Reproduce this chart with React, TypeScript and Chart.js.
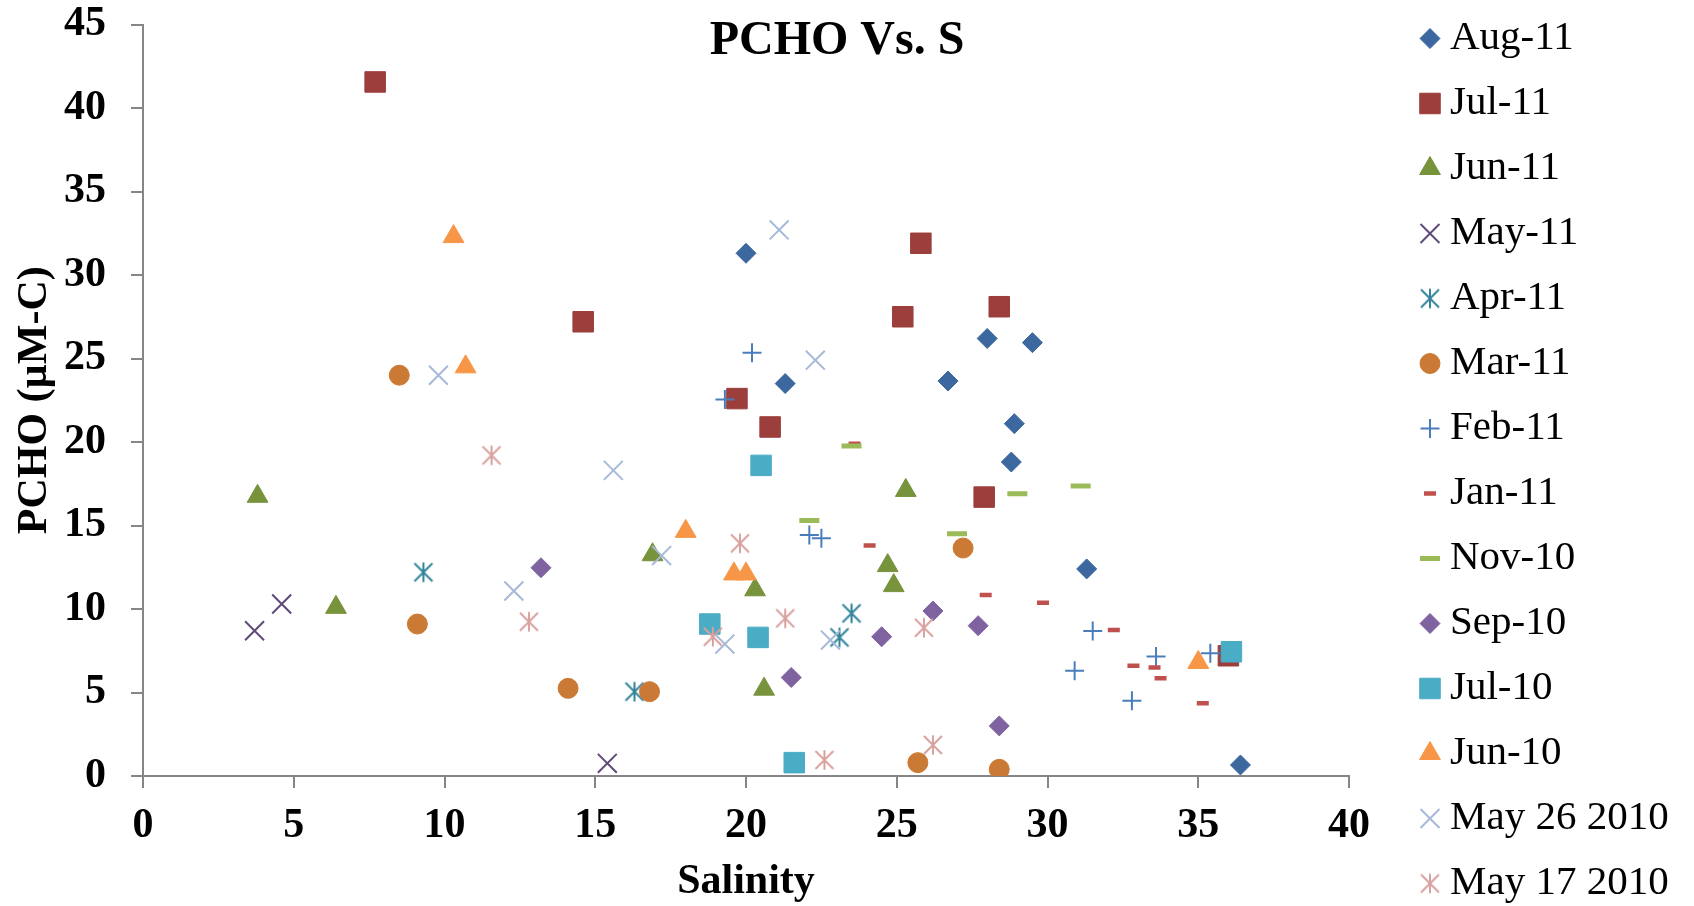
import React, { useEffect, useRef } from 'react';
import { Chart, registerables } from 'chart.js';
import { drawPoint } from 'chart.js/helpers';

Chart.register(...registerables);

const TITLE = 'PCHO Vs. S';
const X_TITLE = 'Salinity';
const Y_TITLE = 'PCHO (\u00B5M-C)';
const X_MIN = 0;
const X_MAX = 40;
const X_STEP = 5;
const Y_MIN = 0;
const Y_MAX = 45;
const Y_STEP = 5;

const SERIES_NAMES = [
  'Aug-11', 'Jul-11', 'Jun-11', 'May-11', 'Apr-11', 'Mar-11', 'Feb-11',
  'Jan-11', 'Nov-10', 'Sep-10', 'Jul-10', 'Jun-10', 'May 26 2010', 'May 17 2010',
];

const aug11X = [20.0, 21.3, 26.7, 28.0, 29.5, 28.9, 28.8, 31.3, 36.4];
const aug11Y = [31.3, 23.5, 23.65, 26.2, 25.95, 21.1, 18.8, 12.4, 0.66];

const jul11X = [7.7, 14.6, 25.8, 25.2, 28.4, 19.7, 20.8, 27.9, 36.0];
const jul11Y = [41.56, 27.2, 31.9, 27.5, 28.1, 22.6, 20.9, 16.7, 7.2];

const jun11X = [3.8, 6.4, 25.3, 16.9, 24.7, 24.9, 20.3, 20.6];
const jun11Y = [16.75, 10.1, 17.1, 13.25, 12.6, 11.4, 11.15, 5.2];

const may11X = [3.7, 4.6, 15.4];
const may11Y = [8.7, 10.3, 0.76];

const apr11X = [9.3, 16.3, 23.5, 23.1];
const apr11Y = [12.2, 5.05, 9.74, 8.3];

const mar11X = [8.5, 9.1, 14.1, 16.8, 27.2, 25.7, 28.4];
const mar11Y = [24.0, 9.1, 5.25, 5.05, 13.65, 0.8, 0.4];

const feb11X = [20.2, 19.3, 22.1, 22.5, 31.5, 30.9, 33.6, 32.8, 35.4];
const feb11Y = [25.35, 22.55, 14.43, 14.23, 8.68, 6.3, 7.15, 4.5, 7.35];

const jan11X = [23.6, 24.1, 27.95, 29.85, 32.2, 32.85, 33.55, 33.75, 35.15];
const jan11Y = [19.9, 13.8, 10.84, 10.38, 8.74, 6.6, 6.5, 5.85, 4.35];

const nov10X = [23.5, 22.1, 29.0, 31.1, 27.0];
const nov10Y = [19.76, 15.3, 16.9, 17.37, 14.5];

const sep10X = [13.2, 21.5, 24.5, 26.2, 27.7, 28.4];
const sep10Y = [12.47, 5.9, 8.34, 9.88, 9.0, 3.0];

const jul10X = [20.5, 18.8, 20.4, 21.6, 36.1];
const jul10Y = [18.6, 9.1, 8.3, 0.8, 7.44];

const jun10X = [10.3, 10.7, 18.0, 19.6, 20.0, 35.0];
const jun10Y = [32.3, 24.5, 14.65, 12.1, 12.1, 6.8];

const may26X = [21.1, 9.8, 22.3, 15.6, 12.3, 17.2, 19.3, 22.8];
const may26Y = [32.7, 24.0, 24.9, 18.3, 11.08, 13.2, 7.9, 8.14];

const may17X = [11.56, 12.8, 19.8, 18.9, 21.3, 25.9, 26.2, 22.6];
const may17Y = [19.2, 9.24, 13.93, 8.34, 9.44, 8.88, 1.86, 0.96];

const SERIES_X = [aug11X, jul11X, jun11X, may11X, apr11X, mar11X, feb11X, jan11X, nov10X, sep10X, jul10X, jun10X, may26X, may17X];
const SERIES_Y = [aug11Y, jul11Y, jun11Y, may11Y, apr11Y, mar11Y, feb11Y, jan11Y, nov10Y, sep10Y, jul10Y, jun10Y, may26Y, may17Y];

const COLORS = [
  '#3C689F', '#9C3E3B', '#77933C', '#604A7B', '#31849B', '#CB7A35', '#4A7EBB',
  '#C0504D', '#9BBB59', '#7F63A1', '#4BACC6', '#F79646', '#A7B9D9', '#D9A19E',
];

const FONT = '"Liberation Serif", "Times New Roman", serif';

function makeAsterisk(color: string): HTMLCanvasElement {
  const c = document.createElement('canvas');
  c.width = 24;
  c.height = 24;
  const ctx = c.getContext('2d')!;
  ctx.strokeStyle = color;
  ctx.lineWidth = 2;
  ctx.beginPath();
  ctx.moveTo(12, 2.3);
  ctx.lineTo(12, 21.7);
  ctx.moveTo(3, 3);
  ctx.lineTo(21, 21);
  ctx.moveTo(21, 3);
  ctx.lineTo(3, 21);
  ctx.stroke();
  return c;
}

function markerFor(i: number, color: string): any {
  switch (i) {
    case 0:
    case 9:
      return { pointStyle: 'rectRot', pointRadius: 10, pointBorderWidth: 1, pointBackgroundColor: color, pointBorderColor: color };
    case 1:
    case 10:
      return { pointStyle: 'rect', pointRadius: 14.5, pointBorderWidth: 1, pointBackgroundColor: color, pointBorderColor: color };
    case 2:
    case 11:
      return { pointStyle: 'triangle', pointRadius: 12, pointBorderWidth: 1, pointBackgroundColor: color, pointBorderColor: color };
    case 3:
    case 12:
      return { pointStyle: 'crossRot', pointRadius: 13.4, pointBorderWidth: 2, pointBackgroundColor: color, pointBorderColor: color };
    case 4:
    case 13:
      return { pointStyle: makeAsterisk(color), pointRadius: 10, pointBorderWidth: 0, pointBackgroundColor: color, pointBorderColor: color };
    case 5:
      return { pointStyle: 'circle', pointRadius: 10, pointBorderWidth: 1, pointBackgroundColor: color, pointBorderColor: color };
    case 6:
      return { pointStyle: 'cross', pointRadius: 9.5, pointBorderWidth: 2, pointBackgroundColor: color, pointBorderColor: color };
    case 7:
      return { pointStyle: 'line', pointRadius: 6, pointBorderWidth: 4.5, pointBackgroundColor: color, pointBorderColor: color };
    case 8:
    default:
      return { pointStyle: 'line', pointRadius: 10, pointBorderWidth: 5, pointBackgroundColor: color, pointBorderColor: color };
  }
}

const titlePlugin = {
  id: 'insideTitle',
  afterDraw(chart: any) {
    const ctx = chart.ctx;
    ctx.save();
    ctx.font = `bold 48px ${FONT}`;
    ctx.fillStyle = '#000';
    ctx.textAlign = 'center';
    ctx.textBaseline = 'alphabetic';
    ctx.fillText(TITLE, 837, 54);
    ctx.restore();
  },
};

const legendPlugin = {
  id: 'sideLegend',
  afterDraw(chart: any) {
    const ctx = chart.ctx;
    ctx.save();
    chart.data.datasets.forEach((ds: any, i: number) => {
      const y = 38.5 + i * 65;
      ctx.save();
      ctx.fillStyle = ds.pointBackgroundColor;
      ctx.strokeStyle = ds.pointBorderColor;
      ctx.lineWidth = ds.pointBorderWidth;
      drawPoint(ctx, { pointStyle: ds.pointStyle, radius: ds.pointRadius, borderWidth: ds.pointBorderWidth, rotation: 0 } as any, 1430, y);
      ctx.restore();
      ctx.fillStyle = '#000';
      ctx.font = `41px ${FONT}`;
      ctx.textAlign = 'left';
      ctx.textBaseline = 'middle';
      ctx.fillText(ds.label, 1450, y);
    });
    ctx.restore();
  },
};

export default function App() {
  const canvasRef = useRef<HTMLCanvasElement | null>(null);

  useEffect(() => {
    if (!canvasRef.current) return;
    Chart.defaults.font.family = FONT;
    const n = SERIES_NAMES.length;
    const datasets: any[] = SERIES_NAMES.map((name, i) => ({
      label: name,
      data: SERIES_X[i].map((x, k) => ({ x, y: SERIES_Y[i][k] })),
      order: n - i,
      showLine: false,
      ...markerFor(i, COLORS[i]),
    }));
    datasets.forEach((d: any) => {
      d.pointHoverRadius = d.pointRadius;
      d.pointHoverBorderWidth = d.pointBorderWidth;
    });

    const chart = new Chart(canvasRef.current, {
      type: 'scatter',
      data: { datasets },
      options: {
        animation: false,
        responsive: true,
        maintainAspectRatio: false,
        events: [],
        layout: { padding: { left: 0, top: 24.5, right: 345, bottom: 0 } },
        plugins: {
          legend: { display: false },
          tooltip: { enabled: false },
          title: { display: false },
        },
        scales: {
          x: {
            type: 'linear',
            min: X_MIN,
            max: X_MAX,
            border: { display: true, color: '#868686', width: 2 },
            grid: { display: true, drawOnChartArea: false, drawTicks: true, tickLength: 12, color: '#868686', lineWidth: 2 },
            ticks: { stepSize: X_STEP, padding: 17, color: '#000', font: { size: 42, weight: 'bold', lineHeight: 1 }, maxRotation: 0 },
            title: { display: true, text: X_TITLE, color: '#000', font: { size: 42, weight: 'bold', lineHeight: 1 }, padding: { top: 0, bottom: 2.5 } },
            afterFit: (scale: any) => { scale.height = 130; scale.paddingLeft = 0; scale.paddingRight = 0; },
          },
          y: {
            type: 'linear',
            min: Y_MIN,
            max: Y_MAX,
            border: { display: true, color: '#868686', width: 2 },
            grid: { display: true, drawOnChartArea: false, drawTicks: true, tickLength: 12, color: '#868686', lineWidth: 2 },
            ticks: { stepSize: Y_STEP, padding: 25, color: '#000', font: { size: 42, weight: 'bold', lineHeight: 1 } },
            title: { display: true, text: Y_TITLE, color: '#000', font: { size: 42, weight: 'bold', lineHeight: 1 }, padding: { top: 14, bottom: 0 } },
            afterFit: (scale: any) => { scale.width = 143; scale.paddingTop = 0; scale.paddingBottom = 0; },
          },
        },
      } as any,
      plugins: [titlePlugin, legendPlugin],
    });
    return () => chart.destroy();
  }, []);

  return (
    <div style={{ position: 'fixed', left: 0, top: 0, width: '1694px', height: '906px', background: '#fff' }}>
      <canvas ref={canvasRef} style={{ display: 'block' }} />
    </div>
  );
}
